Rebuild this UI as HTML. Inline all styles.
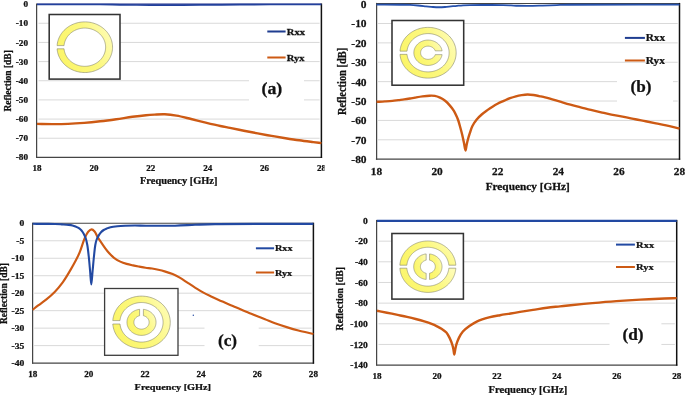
<!DOCTYPE html>
<html><head><meta charset="utf-8"><style>
html,body{margin:0;padding:0;background:#fff;width:685px;height:395px;overflow:hidden}
svg{display:block;will-change:transform}
text{font-family:"Liberation Serif", serif;font-weight:bold;stroke:#111;stroke-width:0.25px;paint-order:stroke}
</style></head><body>
<svg width="685" height="395" viewBox="0 0 685 395" font-family='"Liberation Serif", serif' font-weight="bold" fill="#111">
<defs>
<linearGradient id="yg" x1="0" y1="0.7" x2="1" y2="0.3">
<stop offset="0" stop-color="#fbf567"/><stop offset="0.6" stop-color="#fcf87f"/><stop offset="1" stop-color="#fefcb4"/>
</linearGradient>
<clipPath id="ca"><rect x="0" y="0" width="324.5" height="200"/></clipPath>
</defs>
<rect width="685" height="395" fill="#fff"/>
<g clip-path="url(#ca)">
<line x1="38.50" y1="23.26" x2="319.60" y2="23.26" stroke="#d9d9d9" stroke-width="1"/>
<line x1="38.50" y1="42.43" x2="319.60" y2="42.43" stroke="#d9d9d9" stroke-width="1"/>
<line x1="38.50" y1="61.59" x2="319.60" y2="61.59" stroke="#d9d9d9" stroke-width="1"/>
<line x1="38.50" y1="80.75" x2="319.60" y2="80.75" stroke="#d9d9d9" stroke-width="1"/>
<line x1="38.50" y1="99.91" x2="319.60" y2="99.91" stroke="#d9d9d9" stroke-width="1"/>
<line x1="38.50" y1="119.08" x2="319.60" y2="119.08" stroke="#d9d9d9" stroke-width="1"/>
<line x1="38.50" y1="138.24" x2="319.60" y2="138.24" stroke="#d9d9d9" stroke-width="1"/>
<rect x="249.00" y="68.00" width="55.00" height="44.00" fill="#fff"/>
<line x1="36.60" y1="3.50" x2="36.60" y2="158.00" stroke="#454545" stroke-width="1.25"/>
<line x1="36.40" y1="157.40" x2="322.10" y2="157.40" stroke="#454545" stroke-width="1.3"/>
<line x1="37.00" y1="4.10" x2="321.40" y2="4.10" stroke="#1f2d88" stroke-width="1.1"/>
<line x1="321.40" y1="3.50" x2="321.40" y2="158.00" stroke="#111" stroke-width="1.5"/>
<rect x="49.20" y="14.50" width="70.80" height="64.60" fill="#fff" stroke="#333" stroke-width="1.55"/>
<path d="M57.10,45.60 L57.23,44.31 L57.43,43.02 L57.70,41.74 L58.04,40.48 L58.45,39.24 L58.94,38.02 L59.49,36.82 L60.10,35.65 L60.78,34.51 L61.53,33.40 L62.34,32.33 L63.20,31.30 L64.12,30.31 L65.10,29.36 L66.13,28.47 L67.21,27.62 L68.33,26.82 L69.50,26.07 L70.70,25.39 L71.95,24.76 L73.23,24.18 L74.54,23.67 L75.87,23.22 L77.23,22.84 L78.61,22.51 L80.01,22.26 L81.41,22.07 L82.83,21.94 L84.25,21.88 L85.68,21.89 L87.10,21.96 L88.51,22.10 L89.92,22.31 L91.31,22.58 L92.69,22.92 L94.04,23.32 L95.37,23.79 L96.67,24.31 L97.94,24.90 L99.18,25.54 L100.38,26.24 L101.54,27.00 L102.65,27.81 L103.72,28.67 L104.73,29.58 L105.70,30.53 L106.61,31.53 L107.46,32.58 L108.25,33.66 L108.98,34.77 L109.65,35.92 L110.25,37.10 L110.78,38.30 L111.25,39.53 L111.65,40.77 L111.97,42.04 L112.23,43.32 L112.41,44.61 L112.52,45.90 L112.55,47.20 L112.52,48.50 L112.41,49.79 L112.23,51.08 L111.97,52.36 L111.65,53.63 L111.25,54.87 L110.78,56.10 L110.25,57.30 L109.65,58.48 L108.98,59.63 L108.25,60.74 L107.46,61.82 L106.61,62.87 L105.70,63.87 L104.73,64.82 L103.72,65.73 L102.65,66.59 L101.54,67.40 L100.38,68.16 L99.18,68.86 L97.94,69.50 L96.67,70.09 L95.37,70.61 L94.04,71.08 L92.69,71.48 L91.31,71.82 L89.92,72.09 L88.51,72.30 L87.10,72.44 L85.68,72.51 L84.25,72.52 L82.83,72.46 L81.41,72.33 L80.01,72.14 L78.61,71.89 L77.23,71.56 L75.87,71.18 L74.54,70.73 L73.23,70.22 L71.95,69.64 L70.70,69.01 L69.50,68.33 L68.33,67.58 L67.21,66.78 L66.13,65.93 L65.10,65.04 L64.12,64.09 L63.20,63.10 L62.34,62.07 L61.53,61.00 L60.78,59.89 L60.10,58.75 L59.49,57.58 L58.94,56.38 L58.45,55.16 L58.04,53.92 L57.70,52.66 L57.43,51.38 L57.23,50.09 L57.10,48.80 L64.06,48.80 L64.17,49.77 L64.34,50.73 L64.57,51.68 L64.84,52.62 L65.17,53.55 L65.54,54.46 L65.97,55.35 L66.45,56.22 L66.97,57.07 L67.54,57.89 L68.16,58.68 L68.82,59.45 L69.52,60.18 L70.26,60.88 L71.03,61.54 L71.85,62.17 L72.69,62.75 L73.57,63.30 L74.48,63.80 L75.41,64.27 L76.37,64.68 L77.35,65.05 L78.35,65.38 L79.37,65.66 L80.40,65.89 L81.44,66.07 L82.49,66.20 L83.55,66.28 L84.61,66.32 L85.67,66.30 L86.73,66.24 L87.78,66.12 L88.83,65.96 L89.86,65.74 L90.89,65.48 L91.89,65.18 L92.88,64.82 L93.85,64.42 L94.79,63.97 L95.71,63.48 L96.60,62.95 L97.45,62.38 L98.28,61.77 L99.07,61.12 L99.82,60.43 L100.54,59.71 L101.21,58.96 L101.84,58.18 L102.43,57.37 L102.97,56.53 L103.46,55.67 L103.91,54.78 L104.30,53.88 L104.65,52.96 L104.94,52.02 L105.18,51.07 L105.37,50.11 L105.51,49.15 L105.59,48.17 L105.62,47.20 L105.59,46.23 L105.51,45.25 L105.37,44.29 L105.18,43.33 L104.94,42.38 L104.65,41.44 L104.30,40.52 L103.91,39.62 L103.46,38.73 L102.97,37.87 L102.43,37.03 L101.84,36.22 L101.21,35.44 L100.54,34.69 L99.82,33.97 L99.07,33.28 L98.28,32.63 L97.45,32.02 L96.60,31.45 L95.71,30.92 L94.79,30.43 L93.85,29.98 L92.88,29.58 L91.89,29.22 L90.89,28.92 L89.86,28.66 L88.83,28.44 L87.78,28.28 L86.73,28.16 L85.67,28.10 L84.61,28.08 L83.55,28.12 L82.49,28.20 L81.44,28.33 L80.40,28.51 L79.37,28.74 L78.35,29.02 L77.35,29.35 L76.37,29.72 L75.41,30.13 L74.48,30.60 L73.57,31.10 L72.69,31.65 L71.85,32.23 L71.03,32.86 L70.26,33.52 L69.52,34.22 L68.82,34.95 L68.16,35.72 L67.54,36.51 L66.97,37.33 L66.45,38.18 L65.97,39.05 L65.54,39.94 L65.17,40.85 L64.84,41.78 L64.57,42.72 L64.34,43.67 L64.17,44.63 L64.06,45.60 Z" fill="url(#yg)" stroke="#85856a" stroke-width="0.6"/>
<path d="M37.00,123.90 C42.03,123.97 46.99,124.10 52.10,124.10 C57.36,124.10 62.76,124.10 68.10,123.90 C73.46,123.70 78.85,123.33 84.20,122.90 C89.55,122.47 94.86,121.91 100.20,121.30 C105.56,120.68 110.94,119.95 116.30,119.20 C121.67,118.45 127.25,117.49 132.40,116.80 C137.12,116.17 141.98,115.58 146.00,115.20 C149.19,114.90 151.61,114.75 154.60,114.60 C157.85,114.44 161.29,114.16 164.80,114.30 C168.57,114.45 172.41,114.90 176.50,115.60 C181.12,116.39 186.24,117.83 191.10,119.00 C195.97,120.17 200.83,121.43 205.70,122.60 C210.56,123.77 215.92,125.06 220.30,126.00 C223.86,126.76 226.48,127.20 230.00,127.90 C234.22,128.74 239.27,129.78 243.90,130.70 C248.51,131.61 253.09,132.53 257.70,133.40 C262.32,134.27 266.96,135.10 271.60,135.90 C276.23,136.70 280.87,137.47 285.50,138.20 C290.11,138.93 294.69,139.65 299.30,140.30 C303.92,140.95 309.17,141.59 313.20,142.10 C316.29,142.49 318.67,142.77 321.40,143.10" fill="none" stroke="#cd5a14" stroke-width="2.40" stroke-linejoin="round"/>
<path d="M37.00,4.50 C58.00,4.50 84.86,4.39 100.00,4.50 C108.53,4.56 112.66,4.71 120.00,4.80 C128.99,4.91 140.46,5.03 150.00,5.10 C158.71,5.16 166.67,5.23 175.00,5.20 C183.33,5.17 190.69,4.98 200.00,4.90 C211.77,4.80 227.62,4.77 240.00,4.70 C250.72,4.64 258.66,4.54 270.00,4.50 C284.84,4.45 304.27,4.50 321.40,4.50" fill="none" stroke="#22409c" stroke-width="1.70" stroke-linejoin="round"/>
<line x1="267.30" y1="31.40" x2="285.60" y2="31.40" stroke="#1f3d90" stroke-width="2"/>
<line x1="267.30" y1="57.60" x2="285.60" y2="57.60" stroke="#cd5a14" stroke-width="2"/>
<text x="0" y="0" transform="translate(286.80,35.00) scale(1.155,1)" font-size="9.10" text-anchor="start" >Rxx</text>
<text x="0" y="0" transform="translate(286.80,61.20) scale(1.155,1)" font-size="9.10" text-anchor="start" >Ryx</text>
<text x="0" y="0" transform="translate(271.85,94.10) scale(1.140,1)" font-size="15.66" text-anchor="middle" >(a)</text>
<text x="0" y="0" transform="translate(28.00,7.17) scale(1.150,1)" font-size="8.00" text-anchor="end" >0</text>
<text x="0" y="0" transform="translate(28.00,26.33) scale(1.150,1)" font-size="8.00" text-anchor="end" >-10</text>
<text x="0" y="0" transform="translate(28.00,45.50) scale(1.150,1)" font-size="8.00" text-anchor="end" >-20</text>
<text x="0" y="0" transform="translate(28.00,64.66) scale(1.150,1)" font-size="8.00" text-anchor="end" >-30</text>
<text x="0" y="0" transform="translate(28.00,83.82) scale(1.150,1)" font-size="8.00" text-anchor="end" >-40</text>
<text x="0" y="0" transform="translate(28.00,102.98) scale(1.150,1)" font-size="8.00" text-anchor="end" >-50</text>
<text x="0" y="0" transform="translate(28.00,122.14) scale(1.150,1)" font-size="8.00" text-anchor="end" >-60</text>
<text x="0" y="0" transform="translate(28.00,141.31) scale(1.150,1)" font-size="8.00" text-anchor="end" >-70</text>
<text x="0" y="0" transform="translate(28.00,160.47) scale(1.150,1)" font-size="8.00" text-anchor="end" >-80</text>
<text x="0" y="0" transform="translate(37.00,171.00) scale(1.100,1)" font-size="8.20" text-anchor="middle" >18</text>
<text x="0" y="0" transform="translate(93.88,171.00) scale(1.100,1)" font-size="8.20" text-anchor="middle" >20</text>
<text x="0" y="0" transform="translate(150.76,171.00) scale(1.100,1)" font-size="8.20" text-anchor="middle" >22</text>
<text x="0" y="0" transform="translate(207.64,171.00) scale(1.100,1)" font-size="8.20" text-anchor="middle" >24</text>
<text x="0" y="0" transform="translate(264.52,171.00) scale(1.100,1)" font-size="8.20" text-anchor="middle" >26</text>
<text x="0" y="0" transform="translate(321.40,171.00) scale(1.100,1)" font-size="8.20" text-anchor="middle" >28</text>
<text x="0" y="0" transform="translate(178.70,184.20) scale(1.100,1)" font-size="9.45" text-anchor="middle" >Frequency [GHz]</text>
<text x="0" y="0" transform="translate(11.00,80.85) scale(1.120,1) rotate(-90)" font-size="9.50" text-anchor="middle">Reflection [dB]</text>
</g>
<line x1="378.00" y1="23.49" x2="677.70" y2="23.49" stroke="#d9d9d9" stroke-width="1"/>
<line x1="378.00" y1="42.88" x2="677.70" y2="42.88" stroke="#d9d9d9" stroke-width="1"/>
<line x1="378.00" y1="62.26" x2="677.70" y2="62.26" stroke="#d9d9d9" stroke-width="1"/>
<line x1="378.00" y1="81.65" x2="677.70" y2="81.65" stroke="#d9d9d9" stroke-width="1"/>
<line x1="378.00" y1="101.04" x2="677.70" y2="101.04" stroke="#d9d9d9" stroke-width="1"/>
<line x1="378.00" y1="120.42" x2="677.70" y2="120.42" stroke="#d9d9d9" stroke-width="1"/>
<line x1="378.00" y1="139.81" x2="677.70" y2="139.81" stroke="#d9d9d9" stroke-width="1"/>
<rect x="617.00" y="68.00" width="56.00" height="44.00" fill="#fff"/>
<line x1="376.60" y1="2.90" x2="376.60" y2="159.80" stroke="#454545" stroke-width="1.25"/>
<line x1="375.90" y1="159.20" x2="680.20" y2="159.20" stroke="#454545" stroke-width="1.3"/>
<line x1="376.50" y1="3.50" x2="679.50" y2="3.50" stroke="#454545" stroke-width="1.1"/>
<line x1="679.50" y1="2.90" x2="679.50" y2="159.80" stroke="#111" stroke-width="1.5"/>
<rect x="392.00" y="20.50" width="71.70" height="64.70" fill="#fff" stroke="#333" stroke-width="1.55"/>
<path d="M400.00,51.15 L400.13,49.85 L400.33,48.57 L400.60,47.29 L400.95,46.03 L401.37,44.78 L401.86,43.56 L402.41,42.36 L403.04,41.18 L403.73,40.04 L404.48,38.93 L405.30,37.86 L406.17,36.83 L407.11,35.83 L408.10,34.89 L409.14,33.99 L410.23,33.14 L411.37,32.34 L412.55,31.59 L413.77,30.90 L415.03,30.27 L416.33,29.70 L417.65,29.19 L419.01,28.74 L420.38,28.35 L421.78,28.03 L423.19,27.77 L424.62,27.58 L426.05,27.45 L427.50,27.39 L428.94,27.40 L430.38,27.47 L431.81,27.62 L433.23,27.82 L434.64,28.10 L436.04,28.43 L437.41,28.83 L438.75,29.30 L440.07,29.83 L441.36,30.41 L442.61,31.06 L443.83,31.76 L445.00,32.52 L446.13,33.33 L447.21,34.19 L448.24,35.10 L449.21,36.06 L450.13,37.06 L451.00,38.10 L451.80,39.18 L452.54,40.30 L453.21,41.45 L453.82,42.63 L454.36,43.84 L454.84,45.07 L455.24,46.31 L455.57,47.58 L455.82,48.86 L456.01,50.15 L456.12,51.45 L456.16,52.75 L456.12,54.05 L456.01,55.35 L455.82,56.64 L455.57,57.92 L455.24,59.19 L454.84,60.43 L454.36,61.66 L453.82,62.87 L453.21,64.05 L452.54,65.20 L451.80,66.32 L451.00,67.40 L450.13,68.44 L449.21,69.44 L448.24,70.40 L447.21,71.31 L446.13,72.17 L445.00,72.98 L443.83,73.74 L442.61,74.44 L441.36,75.09 L440.07,75.67 L438.75,76.20 L437.41,76.67 L436.04,77.07 L434.64,77.40 L433.23,77.68 L431.81,77.88 L430.38,78.03 L428.94,78.10 L427.50,78.11 L426.05,78.05 L424.62,77.92 L423.19,77.73 L421.78,77.47 L420.38,77.15 L419.01,76.76 L417.65,76.31 L416.33,75.80 L415.03,75.23 L413.77,74.60 L412.55,73.91 L411.37,73.16 L410.23,72.36 L409.14,71.51 L408.10,70.61 L407.11,69.67 L406.17,68.67 L405.30,67.64 L404.48,66.57 L403.73,65.46 L403.04,64.32 L402.41,63.14 L401.86,61.94 L401.37,60.72 L400.95,59.47 L400.60,58.21 L400.33,56.93 L400.13,55.65 L400.00,54.35 L407.04,54.35 L407.16,55.32 L407.33,56.28 L407.56,57.24 L407.84,58.18 L408.17,59.11 L408.55,60.02 L408.98,60.91 L409.46,61.79 L410.00,62.63 L410.57,63.46 L411.20,64.25 L411.86,65.02 L412.57,65.75 L413.32,66.45 L414.11,67.11 L414.93,67.74 L415.79,68.33 L416.68,68.87 L417.60,69.38 L418.54,69.84 L419.51,70.26 L420.51,70.63 L421.52,70.96 L422.55,71.24 L423.59,71.47 L424.65,71.65 L425.71,71.78 L426.78,71.86 L427.86,71.90 L428.93,71.88 L430.00,71.82 L431.07,71.70 L432.13,71.54 L433.18,71.32 L434.21,71.06 L435.23,70.75 L436.23,70.40 L437.21,70.00 L438.17,69.55 L439.09,69.06 L440.00,68.53 L440.86,67.95 L441.70,67.34 L442.50,66.69 L443.26,66.00 L443.99,65.28 L444.67,64.53 L445.31,63.74 L445.90,62.93 L446.45,62.09 L446.95,61.23 L447.40,60.34 L447.80,59.44 L448.15,58.51 L448.45,57.58 L448.69,56.63 L448.88,55.67 L449.02,54.70 L449.10,53.73 L449.13,52.75 L449.10,51.77 L449.02,50.80 L448.88,49.83 L448.69,48.87 L448.45,47.92 L448.15,46.99 L447.80,46.06 L447.40,45.16 L446.95,44.27 L446.45,43.41 L445.90,42.57 L445.31,41.76 L444.67,40.97 L443.99,40.22 L443.26,39.50 L442.50,38.81 L441.70,38.16 L440.86,37.55 L440.00,36.97 L439.09,36.44 L438.17,35.95 L437.21,35.50 L436.23,35.10 L435.23,34.75 L434.21,34.44 L433.18,34.18 L432.13,33.96 L431.07,33.80 L430.00,33.68 L428.93,33.62 L427.86,33.60 L426.78,33.64 L425.71,33.72 L424.65,33.85 L423.59,34.03 L422.55,34.26 L421.52,34.54 L420.51,34.87 L419.51,35.24 L418.54,35.66 L417.60,36.12 L416.68,36.63 L415.79,37.17 L414.93,37.76 L414.11,38.39 L413.32,39.05 L412.57,39.75 L411.86,40.48 L411.20,41.25 L410.57,42.04 L410.00,42.87 L409.46,43.71 L408.98,44.59 L408.55,45.48 L408.17,46.39 L407.84,47.32 L407.56,48.26 L407.33,49.22 L407.16,50.18 L407.04,51.15 Z" fill="url(#yg)" stroke="#85856a" stroke-width="0.6"/>
<path d="M442.08,54.65 L441.96,55.27 L441.80,55.89 L441.61,56.50 L441.38,57.10 L441.13,57.68 L440.83,58.26 L440.51,58.82 L440.16,59.37 L439.77,59.90 L439.36,60.41 L438.92,60.91 L438.45,61.38 L437.95,61.83 L437.44,62.26 L436.89,62.67 L436.33,63.05 L435.74,63.41 L435.14,63.74 L434.52,64.04 L433.88,64.31 L433.23,64.56 L432.56,64.77 L431.89,64.96 L431.20,65.11 L430.51,65.24 L429.81,65.33 L429.10,65.40 L428.40,65.43 L427.69,65.43 L426.98,65.40 L426.28,65.33 L425.58,65.24 L424.89,65.11 L424.20,64.96 L423.53,64.77 L422.86,64.55 L422.21,64.31 L421.57,64.03 L420.95,63.73 L420.35,63.40 L419.76,63.04 L419.20,62.66 L418.66,62.26 L418.14,61.83 L417.64,61.37 L417.18,60.90 L416.73,60.41 L416.32,59.89 L415.94,59.36 L415.58,58.81 L415.26,58.25 L414.97,57.67 L414.71,57.09 L414.49,56.49 L414.29,55.88 L414.14,55.26 L414.01,54.64 L413.93,54.01 L413.87,53.38 L413.86,52.75 L413.87,52.12 L413.93,51.49 L414.01,50.86 L414.14,50.24 L414.29,49.62 L414.49,49.01 L414.71,48.41 L414.97,47.83 L415.26,47.25 L415.58,46.69 L415.94,46.14 L416.32,45.61 L416.73,45.09 L417.18,44.60 L417.64,44.13 L418.14,43.67 L418.66,43.24 L419.20,42.84 L419.76,42.46 L420.35,42.10 L420.95,41.77 L421.57,41.47 L422.21,41.19 L422.86,40.95 L423.53,40.73 L424.20,40.54 L424.89,40.39 L425.58,40.26 L426.28,40.17 L426.98,40.10 L427.69,40.07 L428.40,40.07 L429.10,40.10 L429.81,40.17 L430.51,40.26 L431.20,40.39 L431.89,40.54 L432.56,40.73 L433.23,40.94 L433.88,41.19 L434.52,41.46 L435.14,41.76 L435.74,42.09 L436.33,42.45 L436.89,42.83 L437.44,43.24 L437.95,43.67 L438.45,44.12 L438.92,44.59 L439.36,45.09 L439.77,45.60 L440.16,46.13 L440.51,46.68 L440.83,47.24 L441.13,47.82 L441.38,48.40 L441.61,49.00 L441.80,49.61 L441.96,50.23 L442.08,50.85 L435.18,50.85 L435.07,50.55 L434.95,50.26 L434.81,49.97 L434.65,49.69 L434.48,49.42 L434.29,49.15 L434.09,48.89 L433.88,48.64 L433.65,48.40 L433.41,48.17 L433.16,47.95 L432.90,47.74 L432.62,47.55 L432.34,47.36 L432.05,47.18 L431.74,47.02 L431.43,46.87 L431.11,46.74 L430.79,46.62 L430.45,46.51 L430.12,46.41 L429.78,46.34 L429.43,46.27 L429.08,46.22 L428.73,46.18 L428.38,46.16 L428.02,46.16 L427.67,46.16 L427.32,46.19 L426.97,46.23 L426.62,46.28 L426.27,46.35 L425.93,46.43 L425.59,46.52 L425.26,46.63 L424.94,46.76 L424.62,46.90 L424.31,47.05 L424.01,47.21 L423.72,47.39 L423.43,47.58 L423.16,47.78 L422.90,47.99 L422.65,48.21 L422.41,48.44 L422.19,48.68 L421.98,48.93 L421.78,49.19 L421.60,49.46 L421.43,49.73 L421.27,50.02 L421.13,50.30 L421.01,50.60 L420.90,50.90 L420.81,51.20 L420.74,51.50 L420.68,51.81 L420.64,52.12 L420.61,52.44 L420.60,52.75 L420.61,53.06 L420.64,53.38 L420.68,53.69 L420.74,54.00 L420.81,54.30 L420.90,54.60 L421.01,54.90 L421.13,55.20 L421.27,55.48 L421.43,55.77 L421.60,56.04 L421.78,56.31 L421.98,56.57 L422.19,56.82 L422.41,57.06 L422.65,57.29 L422.90,57.51 L423.16,57.72 L423.43,57.92 L423.72,58.11 L424.01,58.29 L424.31,58.45 L424.62,58.60 L424.94,58.74 L425.26,58.87 L425.59,58.98 L425.93,59.07 L426.27,59.15 L426.62,59.22 L426.97,59.27 L427.32,59.31 L427.67,59.34 L428.02,59.34 L428.38,59.34 L428.73,59.32 L429.08,59.28 L429.43,59.23 L429.78,59.16 L430.12,59.09 L430.45,58.99 L430.79,58.88 L431.11,58.76 L431.43,58.63 L431.74,58.48 L432.05,58.32 L432.34,58.14 L432.62,57.95 L432.90,57.76 L433.16,57.55 L433.41,57.33 L433.65,57.10 L433.88,56.86 L434.09,56.61 L434.29,56.35 L434.48,56.08 L434.65,55.81 L434.81,55.53 L434.95,55.24 L435.07,54.95 L435.18,54.65 Z" fill="url(#yg)" stroke="#85856a" stroke-width="0.6"/>
<path d="M376.60,101.80 C379.37,101.67 382.20,101.56 384.90,101.40 C387.49,101.24 390.13,101.09 392.50,100.85 C394.59,100.64 396.44,100.34 398.40,100.10 C400.34,99.86 402.27,99.67 404.20,99.40 C406.14,99.13 408.14,98.81 410.00,98.50 C411.73,98.21 413.16,97.91 415.00,97.60 C417.25,97.22 420.04,96.72 422.50,96.40 C424.87,96.09 427.33,95.77 429.50,95.70 C431.39,95.64 433.07,95.57 434.80,95.90 C436.57,96.23 438.32,96.91 440.00,97.70 C441.75,98.52 443.53,99.58 445.10,100.80 C446.70,102.04 448.09,103.51 449.50,105.10 C451.03,106.82 452.68,108.84 453.90,110.80 C455.05,112.64 455.92,114.75 456.70,116.50 C457.34,117.94 457.78,118.97 458.30,120.50 C458.98,122.49 459.66,125.14 460.30,127.50 C460.96,129.90 461.60,132.29 462.20,134.80 C462.83,137.45 463.44,140.33 464.00,143.00 C464.54,145.55 465.04,150.50 465.50,150.50 C465.90,150.50 466.20,146.83 466.60,145.00 C467.00,143.16 467.39,141.41 467.90,139.50 C468.47,137.39 469.17,135.09 469.90,132.90 C470.64,130.69 471.24,128.44 472.30,126.30 C473.41,124.04 474.90,121.69 476.50,119.70 C478.05,117.77 479.91,116.08 481.70,114.50 C483.41,112.99 485.16,111.73 487.00,110.40 C488.89,109.03 491.03,107.56 492.90,106.40 C494.51,105.40 495.83,104.66 497.50,103.80 C499.42,102.82 501.70,101.84 503.80,100.90 C505.87,99.97 507.94,98.98 510.00,98.20 C511.97,97.45 513.93,96.82 515.90,96.30 C517.83,95.79 519.75,95.40 521.70,95.10 C523.65,94.80 525.64,94.52 527.60,94.50 C529.54,94.49 531.47,94.73 533.40,95.00 C535.34,95.27 537.26,95.72 539.20,96.10 C541.16,96.49 543.23,96.86 545.10,97.30 C546.82,97.70 548.08,98.05 550.00,98.60 C552.79,99.39 556.80,100.68 560.20,101.70 C563.60,102.72 566.98,103.77 570.40,104.70 C573.82,105.63 577.28,106.43 580.70,107.30 C584.11,108.16 587.50,109.07 590.90,109.90 C594.30,110.73 597.70,111.52 601.10,112.30 C604.50,113.08 607.63,113.86 611.30,114.60 C615.57,115.46 620.93,116.26 625.20,117.10 C628.87,117.83 631.99,118.60 635.40,119.30 C638.82,120.00 642.28,120.62 645.70,121.30 C649.11,121.98 652.50,122.72 655.90,123.40 C659.30,124.08 662.48,124.63 666.10,125.40 C670.27,126.29 675.03,127.47 679.50,128.50" fill="none" stroke="#cd5a14" stroke-width="2.40" stroke-linejoin="round"/>
<path d="M376.50,4.70 C384.33,4.72 393.82,4.68 400.00,4.75 C404.03,4.79 406.85,4.81 410.00,4.95 C412.82,5.07 415.34,5.28 418.00,5.50 C420.67,5.73 423.42,6.04 426.00,6.30 C428.41,6.54 430.75,6.84 433.00,7.00 C435.07,7.15 437.00,7.25 439.00,7.25 C441.00,7.25 443.00,7.14 445.00,7.00 C447.00,6.86 449.00,6.60 451.00,6.40 C453.00,6.20 455.00,5.98 457.00,5.80 C459.00,5.62 460.92,5.42 463.00,5.30 C465.24,5.17 467.07,5.11 470.00,5.05 C474.96,4.96 484.05,4.98 490.00,5.00 C494.80,5.01 499.19,5.01 503.00,5.10 C505.99,5.17 508.42,5.29 511.00,5.40 C513.41,5.51 515.46,5.67 518.00,5.75 C521.04,5.85 524.59,5.91 528.00,5.90 C531.58,5.89 535.33,5.80 539.00,5.70 C542.67,5.60 546.42,5.43 550.00,5.30 C553.41,5.18 556.67,5.04 560.00,4.95 C563.33,4.86 564.88,4.80 570.00,4.75 C586.94,4.58 643.00,4.72 679.50,4.70" fill="none" stroke="#2550ab" stroke-width="1.80" stroke-linejoin="round"/>
<line x1="624.90" y1="37.90" x2="644.90" y2="37.90" stroke="#1f3d90" stroke-width="2"/>
<line x1="624.90" y1="60.50" x2="644.90" y2="60.50" stroke="#cd5a14" stroke-width="2"/>
<text x="0" y="0" transform="translate(645.70,40.90) scale(1.100,1)" font-size="10.30" text-anchor="start" >Rxx</text>
<text x="0" y="0" transform="translate(645.70,63.50) scale(1.100,1)" font-size="10.30" text-anchor="start" >Ryx</text>
<text x="0" y="0" transform="translate(640.90,92.20) scale(1.094,1)" font-size="15.66" text-anchor="middle" >(b)</text>
<text x="0" y="0" transform="translate(366.60,8.00) scale(1.030,1)" font-size="11.15" text-anchor="end" >0</text>
<text x="0" y="0" transform="translate(366.60,27.39) scale(1.030,1)" font-size="11.15" text-anchor="end" >-10</text>
<text x="0" y="0" transform="translate(366.60,46.77) scale(1.030,1)" font-size="11.15" text-anchor="end" >-20</text>
<text x="0" y="0" transform="translate(366.60,66.16) scale(1.030,1)" font-size="11.15" text-anchor="end" >-30</text>
<text x="0" y="0" transform="translate(366.60,85.55) scale(1.030,1)" font-size="11.15" text-anchor="end" >-40</text>
<text x="0" y="0" transform="translate(366.60,104.94) scale(1.030,1)" font-size="11.15" text-anchor="end" >-50</text>
<text x="0" y="0" transform="translate(366.60,124.32) scale(1.030,1)" font-size="11.15" text-anchor="end" >-60</text>
<text x="0" y="0" transform="translate(366.60,143.71) scale(1.030,1)" font-size="11.15" text-anchor="end" >-70</text>
<text x="0" y="0" transform="translate(366.60,163.10) scale(1.030,1)" font-size="11.15" text-anchor="end" >-80</text>
<text x="0" y="0" transform="translate(376.50,175.20) scale(1.070,1)" font-size="10.60" text-anchor="middle" >18</text>
<text x="0" y="0" transform="translate(437.10,175.20) scale(1.070,1)" font-size="10.60" text-anchor="middle" >20</text>
<text x="0" y="0" transform="translate(497.70,175.20) scale(1.070,1)" font-size="10.60" text-anchor="middle" >22</text>
<text x="0" y="0" transform="translate(558.30,175.20) scale(1.070,1)" font-size="10.60" text-anchor="middle" >24</text>
<text x="0" y="0" transform="translate(618.90,175.20) scale(1.070,1)" font-size="10.60" text-anchor="middle" >26</text>
<text x="0" y="0" transform="translate(679.50,175.20) scale(1.070,1)" font-size="10.60" text-anchor="middle" >28</text>
<text x="0" y="0" transform="translate(527.70,189.80) scale(1.130,1)" font-size="10.00" text-anchor="middle" >Frequency [GHz]</text>
<text x="0" y="0" transform="translate(346.30,81.50) scale(1.100,1) rotate(-90)" font-size="10.40" text-anchor="middle">Reflection [dB]</text>
<line x1="34.20" y1="240.78" x2="311.60" y2="240.78" stroke="#d9d9d9" stroke-width="1"/>
<line x1="34.20" y1="258.25" x2="311.60" y2="258.25" stroke="#d9d9d9" stroke-width="1"/>
<line x1="34.20" y1="275.73" x2="311.60" y2="275.73" stroke="#d9d9d9" stroke-width="1"/>
<line x1="34.20" y1="293.20" x2="311.60" y2="293.20" stroke="#d9d9d9" stroke-width="1"/>
<line x1="34.20" y1="310.68" x2="311.60" y2="310.68" stroke="#d9d9d9" stroke-width="1"/>
<line x1="34.20" y1="328.15" x2="311.60" y2="328.15" stroke="#d9d9d9" stroke-width="1"/>
<line x1="34.20" y1="345.62" x2="311.60" y2="345.62" stroke="#d9d9d9" stroke-width="1"/>
<rect x="204.50" y="318.00" width="54.20" height="44.00" fill="#fff"/>
<line x1="32.60" y1="222.70" x2="32.60" y2="363.70" stroke="#454545" stroke-width="1.25"/>
<line x1="32.10" y1="363.10" x2="314.10" y2="363.10" stroke="#454545" stroke-width="1.3"/>
<line x1="32.70" y1="223.30" x2="313.40" y2="223.30" stroke="#454545" stroke-width="1.1"/>
<line x1="313.40" y1="222.70" x2="313.40" y2="363.70" stroke="#111" stroke-width="1.5"/>
<rect x="104.60" y="288.50" width="73.40" height="66.80" fill="#fff" stroke="#3c3c3c" stroke-width="1.30"/>
<path d="M112.79,320.60 L112.92,319.26 L113.13,317.93 L113.41,316.62 L113.77,315.31 L114.20,314.03 L114.70,312.77 L115.27,311.53 L115.91,310.32 L116.62,309.14 L117.40,308.00 L118.23,306.89 L119.13,305.83 L120.09,304.81 L121.10,303.83 L122.17,302.90 L123.29,302.03 L124.45,301.21 L125.66,300.44 L126.92,299.73 L128.21,299.08 L129.53,298.49 L130.89,297.96 L132.27,297.50 L133.68,297.10 L135.11,296.77 L136.56,296.50 L138.02,296.31 L139.49,296.18 L140.96,296.12 L142.43,296.13 L143.91,296.21 L145.37,296.35 L146.83,296.57 L148.27,296.85 L149.70,297.20 L151.10,297.61 L152.48,298.09 L153.83,298.64 L155.14,299.24 L156.42,299.91 L157.66,300.64 L158.86,301.42 L160.02,302.26 L161.12,303.15 L162.17,304.09 L163.17,305.08 L164.11,306.11 L165.00,307.19 L165.82,308.30 L166.57,309.45 L167.26,310.64 L167.89,311.86 L168.44,313.10 L168.92,314.37 L169.33,315.66 L169.67,316.97 L169.93,318.29 L170.12,319.62 L170.23,320.96 L170.27,322.30 L170.23,323.64 L170.12,324.98 L169.93,326.31 L169.67,327.63 L169.33,328.94 L168.92,330.23 L168.44,331.50 L167.89,332.74 L167.26,333.96 L166.57,335.15 L165.82,336.30 L165.00,337.41 L164.11,338.49 L163.17,339.52 L162.17,340.51 L161.12,341.45 L160.02,342.34 L158.86,343.18 L157.66,343.96 L156.42,344.69 L155.14,345.36 L153.83,345.96 L152.48,346.51 L151.10,346.99 L149.70,347.40 L148.27,347.75 L146.83,348.03 L145.37,348.25 L143.91,348.39 L142.43,348.47 L140.96,348.48 L139.49,348.42 L138.02,348.29 L136.56,348.10 L135.11,347.83 L133.68,347.50 L132.27,347.10 L130.89,346.64 L129.53,346.11 L128.21,345.52 L126.92,344.87 L125.66,344.16 L124.45,343.39 L123.29,342.57 L122.17,341.70 L121.10,340.77 L120.09,339.79 L119.13,338.77 L118.23,337.71 L117.40,336.60 L116.62,335.46 L115.91,334.28 L115.27,333.07 L114.70,331.83 L114.20,330.57 L113.77,329.29 L113.41,327.98 L113.13,326.67 L112.92,325.34 L112.79,324.00 L120.00,324.00 L120.12,325.00 L120.30,325.99 L120.53,326.98 L120.82,327.95 L121.16,328.91 L121.55,329.85 L122.00,330.77 L122.50,331.67 L123.04,332.54 L123.63,333.39 L124.27,334.21 L124.96,334.99 L125.68,335.75 L126.45,336.47 L127.26,337.15 L128.10,337.80 L128.98,338.40 L129.89,338.97 L130.83,339.49 L131.80,339.96 L132.79,340.39 L133.81,340.77 L134.85,341.11 L135.90,341.39 L136.97,341.63 L138.05,341.82 L139.14,341.95 L140.23,342.04 L141.33,342.07 L142.43,342.05 L143.52,341.98 L144.62,341.86 L145.70,341.69 L146.77,341.47 L147.83,341.20 L148.87,340.88 L149.89,340.51 L150.90,340.10 L151.87,339.64 L152.82,339.13 L153.74,338.58 L154.63,337.99 L155.49,337.36 L156.30,336.68 L157.08,335.98 L157.82,335.23 L158.52,334.45 L159.17,333.64 L159.78,332.80 L160.34,331.94 L160.85,331.05 L161.31,330.13 L161.72,329.20 L162.08,328.25 L162.38,327.28 L162.63,326.30 L162.83,325.31 L162.97,324.31 L163.05,323.31 L163.08,322.30 L163.05,321.29 L162.97,320.29 L162.83,319.29 L162.63,318.30 L162.38,317.32 L162.08,316.35 L161.72,315.40 L161.31,314.47 L160.85,313.55 L160.34,312.66 L159.78,311.80 L159.17,310.96 L158.52,310.15 L157.82,309.37 L157.08,308.62 L156.30,307.92 L155.49,307.24 L154.63,306.61 L153.74,306.02 L152.82,305.47 L151.87,304.96 L150.90,304.50 L149.89,304.09 L148.87,303.72 L147.83,303.40 L146.77,303.13 L145.70,302.91 L144.62,302.74 L143.52,302.62 L142.43,302.55 L141.33,302.53 L140.23,302.56 L139.14,302.65 L138.05,302.78 L136.97,302.97 L135.90,303.21 L134.85,303.49 L133.81,303.83 L132.79,304.21 L131.80,304.64 L130.83,305.11 L129.89,305.63 L128.98,306.20 L128.10,306.80 L127.26,307.45 L126.45,308.13 L125.68,308.85 L124.96,309.61 L124.27,310.39 L123.63,311.21 L123.04,312.06 L122.50,312.93 L122.00,313.83 L121.55,314.75 L121.16,315.69 L120.82,316.65 L120.53,317.62 L120.30,318.61 L120.12,319.60 L120.00,320.60 Z" fill="url(#yg)" stroke="#85856a" stroke-width="0.6"/>
<path d="M143.40,309.32 L144.12,309.42 L144.83,309.56 L145.54,309.72 L146.23,309.92 L146.92,310.15 L147.59,310.41 L148.24,310.70 L148.88,311.02 L149.50,311.37 L150.09,311.74 L150.67,312.14 L151.22,312.57 L151.75,313.02 L152.26,313.50 L152.73,314.00 L153.18,314.51 L153.60,315.05 L153.99,315.61 L154.35,316.18 L154.67,316.77 L154.96,317.37 L155.22,317.99 L155.44,318.61 L155.63,319.25 L155.78,319.89 L155.90,320.54 L155.98,321.19 L156.02,321.84 L156.03,322.50 L156.00,323.16 L155.93,323.81 L155.83,324.46 L155.69,325.11 L155.52,325.75 L155.31,326.37 L155.06,326.99 L154.79,327.60 L154.47,328.19 L154.13,328.77 L153.75,329.34 L153.35,329.88 L152.91,330.41 L152.44,330.91 L151.95,331.40 L151.43,331.86 L150.89,332.29 L150.32,332.70 L149.73,333.09 L149.12,333.45 L148.49,333.78 L147.84,334.08 L147.18,334.35 L146.50,334.59 L145.81,334.80 L145.11,334.98 L144.40,335.13 L143.68,335.24 L142.96,335.33 L142.23,335.38 L141.50,335.39 L140.77,335.38 L140.04,335.33 L139.32,335.24 L138.60,335.13 L137.89,334.98 L137.19,334.80 L136.50,334.59 L135.82,334.35 L135.16,334.08 L134.51,333.78 L133.88,333.45 L133.27,333.09 L132.68,332.70 L132.11,332.29 L131.57,331.86 L131.05,331.40 L130.56,330.91 L130.09,330.41 L129.65,329.88 L129.25,329.34 L128.87,328.77 L128.53,328.19 L128.21,327.60 L127.94,326.99 L127.69,326.37 L127.48,325.75 L127.31,325.11 L127.17,324.46 L127.07,323.81 L127.00,323.16 L126.97,322.50 L126.98,321.84 L127.02,321.19 L127.10,320.54 L127.22,319.89 L127.37,319.25 L127.56,318.61 L127.78,317.99 L128.04,317.37 L128.33,316.77 L128.65,316.18 L129.01,315.61 L129.40,315.05 L129.82,314.51 L130.27,314.00 L130.74,313.50 L131.25,313.02 L131.78,312.57 L132.33,312.14 L132.91,311.74 L133.50,311.37 L134.12,311.02 L134.76,310.70 L135.41,310.41 L136.08,310.15 L136.77,309.92 L137.46,309.72 L138.17,309.56 L138.88,309.42 L139.60,309.32 L139.60,315.71 L139.25,315.80 L138.90,315.90 L138.56,316.02 L138.22,316.15 L137.89,316.30 L137.57,316.46 L137.26,316.64 L136.96,316.83 L136.67,317.03 L136.40,317.24 L136.13,317.47 L135.87,317.70 L135.63,317.95 L135.41,318.21 L135.19,318.48 L134.99,318.75 L134.81,319.03 L134.64,319.33 L134.49,319.62 L134.35,319.93 L134.23,320.24 L134.13,320.55 L134.04,320.87 L133.98,321.19 L133.93,321.52 L133.89,321.85 L133.88,322.17 L133.88,322.50 L133.90,322.83 L133.94,323.16 L133.99,323.48 L134.06,323.80 L134.15,324.12 L134.26,324.43 L134.38,324.74 L134.52,325.04 L134.68,325.34 L134.85,325.63 L135.04,325.91 L135.24,326.19 L135.46,326.45 L135.69,326.71 L135.93,326.95 L136.19,327.18 L136.46,327.41 L136.74,327.62 L137.03,327.82 L137.33,328.00 L137.65,328.17 L137.97,328.33 L138.30,328.48 L138.63,328.61 L138.98,328.72 L139.33,328.83 L139.68,328.91 L140.04,328.98 L140.40,329.04 L140.77,329.08 L141.13,329.10 L141.50,329.11 L141.87,329.10 L142.23,329.08 L142.60,329.04 L142.96,328.98 L143.32,328.91 L143.67,328.83 L144.02,328.72 L144.37,328.61 L144.70,328.48 L145.03,328.33 L145.35,328.17 L145.67,328.00 L145.97,327.82 L146.26,327.62 L146.54,327.41 L146.81,327.18 L147.07,326.95 L147.31,326.71 L147.54,326.45 L147.76,326.19 L147.96,325.91 L148.15,325.63 L148.32,325.34 L148.48,325.04 L148.62,324.74 L148.74,324.43 L148.85,324.12 L148.94,323.80 L149.01,323.48 L149.06,323.16 L149.10,322.83 L149.12,322.50 L149.12,322.17 L149.11,321.85 L149.07,321.52 L149.02,321.19 L148.96,320.87 L148.87,320.55 L148.77,320.24 L148.65,319.93 L148.51,319.62 L148.36,319.33 L148.19,319.03 L148.01,318.75 L147.81,318.48 L147.59,318.21 L147.37,317.95 L147.13,317.70 L146.87,317.47 L146.60,317.24 L146.33,317.03 L146.04,316.83 L145.74,316.64 L145.43,316.46 L145.11,316.30 L144.78,316.15 L144.44,316.02 L144.10,315.90 L143.75,315.80 L143.40,315.71 Z" fill="url(#yg)" stroke="#85856a" stroke-width="0.6"/>
<path d="M32.70,309.80 C34.53,308.33 36.17,306.97 38.20,305.40 C40.65,303.51 43.71,301.50 46.40,299.30 C49.21,297.01 52.04,294.65 54.70,291.90 C57.55,288.96 60.29,285.71 62.90,282.10 C65.78,278.12 68.45,273.53 71.10,268.90 C73.92,263.97 77.01,258.51 79.30,253.30 C81.46,248.38 82.86,242.42 84.60,238.50 C85.81,235.78 86.81,233.37 88.20,231.80 C89.23,230.64 90.50,229.40 91.60,229.40 C92.63,229.40 93.71,230.50 94.60,231.50 C95.75,232.80 96.42,235.10 97.50,236.90 C98.64,238.80 99.85,240.50 101.30,242.60 C103.14,245.25 105.46,248.87 107.70,251.50 C109.72,253.87 111.79,256.07 114.00,257.80 C116.01,259.37 118.15,260.57 120.30,261.60 C122.35,262.58 124.47,263.26 126.60,263.90 C128.71,264.53 130.87,264.95 133.00,265.40 C135.10,265.85 137.20,266.22 139.30,266.60 C141.40,266.98 143.49,267.38 145.60,267.70 C147.72,268.02 149.88,268.15 152.00,268.50 C154.12,268.85 156.21,269.32 158.30,269.80 C160.41,270.28 162.39,270.75 164.60,271.40 C167.12,272.14 170.00,273.02 172.60,274.10 C175.20,275.18 177.71,276.46 180.20,277.90 C182.78,279.39 185.26,281.25 187.80,282.90 C190.33,284.55 192.86,286.21 195.40,287.80 C197.92,289.38 200.44,290.99 203.00,292.40 C205.51,293.78 208.06,294.98 210.60,296.20 C213.12,297.41 215.66,298.56 218.20,299.70 C220.73,300.83 223.27,301.90 225.80,303.00 C228.33,304.10 230.87,305.20 233.40,306.30 C235.93,307.40 238.46,308.53 241.00,309.60 C243.53,310.66 246.07,311.67 248.60,312.70 C251.13,313.73 253.57,314.76 256.20,315.80 C259.02,316.92 261.98,318.01 265.00,319.20 C268.23,320.47 271.52,321.92 275.00,323.20 C278.73,324.57 282.79,325.88 286.70,327.10 C290.59,328.31 294.24,329.41 298.40,330.50 C303.07,331.72 308.40,332.83 313.40,334.00" fill="none" stroke="#cd5a14" stroke-width="2.15" stroke-linejoin="round"/>
<path d="M32.70,223.80 C36.80,223.83 41.11,223.86 45.00,223.90 C48.51,223.93 51.99,223.90 55.00,224.00 C57.49,224.09 59.53,224.25 61.80,224.40 C64.09,224.55 66.74,224.68 68.70,224.90 C70.16,225.07 71.32,225.21 72.50,225.50 C73.57,225.76 74.56,226.12 75.50,226.50 C76.38,226.86 77.20,227.23 78.00,227.70 C78.80,228.17 79.60,228.70 80.30,229.30 C81.00,229.90 81.64,230.57 82.20,231.30 C82.77,232.04 83.19,232.74 83.70,233.70 C84.39,235.01 85.22,236.75 85.80,238.50 C86.45,240.48 86.86,242.54 87.30,245.00 C87.87,248.17 88.26,252.05 88.70,256.00 C89.21,260.61 89.66,266.13 90.10,271.00 C90.52,275.62 90.88,284.50 91.30,284.50 C91.72,284.50 92.16,275.62 92.60,271.00 C93.06,266.13 93.51,260.61 94.00,256.00 C94.42,252.05 94.78,247.94 95.30,245.00 C95.66,243.00 95.91,241.63 96.50,240.00 C97.10,238.32 98.06,236.47 98.90,235.10 C99.57,234.00 100.20,233.15 101.00,232.30 C101.80,231.45 102.71,230.65 103.70,230.00 C104.71,229.34 105.87,228.87 107.00,228.40 C108.14,227.93 109.12,227.53 110.50,227.20 C112.40,226.74 115.04,226.45 117.40,226.20 C119.87,225.94 122.29,225.82 125.00,225.70 C128.10,225.57 131.59,225.50 135.00,225.50 C138.58,225.50 141.46,225.66 146.00,225.70 C153.37,225.77 166.23,225.90 175.00,225.70 C182.29,225.54 188.33,225.07 195.00,224.80 C201.67,224.53 205.81,224.27 215.00,224.10 C235.38,223.72 280.60,223.97 313.40,223.90" fill="none" stroke="#2249a2" stroke-width="2.10" stroke-linejoin="round"/>
<line x1="255.90" y1="248.30" x2="274.10" y2="248.30" stroke="#2249a2" stroke-width="2"/>
<line x1="255.90" y1="272.50" x2="274.10" y2="272.50" stroke="#cd5a14" stroke-width="2"/>
<text x="0" y="0" transform="translate(274.90,251.30) scale(1.180,1)" font-size="8.70" text-anchor="start" >Rxx</text>
<text x="0" y="0" transform="translate(274.90,275.50) scale(1.180,1)" font-size="8.70" text-anchor="start" >Ryx</text>
<text x="0" y="0" transform="translate(227.50,345.96) scale(1.060,1)" font-size="16.30" text-anchor="middle" >(c)</text>
<text x="0" y="0" transform="translate(24.30,226.43) scale(1.200,1)" font-size="8.00" text-anchor="end" >0</text>
<text x="0" y="0" transform="translate(24.30,243.91) scale(1.200,1)" font-size="8.00" text-anchor="end" >-5</text>
<text x="0" y="0" transform="translate(24.30,261.38) scale(1.200,1)" font-size="8.00" text-anchor="end" >-10</text>
<text x="0" y="0" transform="translate(24.30,278.86) scale(1.200,1)" font-size="8.00" text-anchor="end" >-15</text>
<text x="0" y="0" transform="translate(24.30,296.33) scale(1.200,1)" font-size="8.00" text-anchor="end" >-20</text>
<text x="0" y="0" transform="translate(24.30,313.81) scale(1.200,1)" font-size="8.00" text-anchor="end" >-25</text>
<text x="0" y="0" transform="translate(24.30,331.28) scale(1.200,1)" font-size="8.00" text-anchor="end" >-30</text>
<text x="0" y="0" transform="translate(24.30,348.75) scale(1.200,1)" font-size="8.00" text-anchor="end" >-35</text>
<text x="0" y="0" transform="translate(24.30,366.23) scale(1.200,1)" font-size="8.00" text-anchor="end" >-40</text>
<text x="0" y="0" transform="translate(32.70,376.60) scale(1.050,1)" font-size="8.70" text-anchor="middle" >18</text>
<text x="0" y="0" transform="translate(88.84,376.60) scale(1.050,1)" font-size="8.70" text-anchor="middle" >20</text>
<text x="0" y="0" transform="translate(144.98,376.60) scale(1.050,1)" font-size="8.70" text-anchor="middle" >22</text>
<text x="0" y="0" transform="translate(201.12,376.60) scale(1.050,1)" font-size="8.70" text-anchor="middle" >24</text>
<text x="0" y="0" transform="translate(257.26,376.60) scale(1.050,1)" font-size="8.70" text-anchor="middle" >26</text>
<text x="0" y="0" transform="translate(313.40,376.60) scale(1.050,1)" font-size="8.70" text-anchor="middle" >28</text>
<text x="0" y="0" transform="translate(172.80,390.10) scale(1.180,1)" font-size="8.70" text-anchor="middle" >Frequency [GHz]</text>
<text x="0" y="0" transform="translate(7.30,293.60) scale(1.100,1) rotate(-90)" font-size="9.40" text-anchor="middle">Reflection [dB]</text>
<line x1="378.50" y1="241.16" x2="674.90" y2="241.16" stroke="#d9d9d9" stroke-width="1"/>
<line x1="378.50" y1="261.81" x2="674.90" y2="261.81" stroke="#d9d9d9" stroke-width="1"/>
<line x1="378.50" y1="282.47" x2="674.90" y2="282.47" stroke="#d9d9d9" stroke-width="1"/>
<line x1="378.50" y1="303.13" x2="674.90" y2="303.13" stroke="#d9d9d9" stroke-width="1"/>
<line x1="378.50" y1="323.79" x2="674.90" y2="323.79" stroke="#d9d9d9" stroke-width="1"/>
<line x1="378.50" y1="344.44" x2="674.90" y2="344.44" stroke="#d9d9d9" stroke-width="1"/>
<rect x="609.50" y="315.00" width="51.90" height="40.00" fill="#fff"/>
<line x1="376.60" y1="219.90" x2="376.60" y2="365.70" stroke="#454545" stroke-width="1.25"/>
<line x1="376.40" y1="365.10" x2="677.40" y2="365.10" stroke="#454545" stroke-width="1.3"/>
<line x1="377.00" y1="220.50" x2="676.70" y2="220.50" stroke="#454545" stroke-width="1.1"/>
<line x1="676.70" y1="219.90" x2="676.70" y2="365.70" stroke="#111" stroke-width="1.5"/>
<rect x="391.90" y="233.50" width="71.50" height="65.60" fill="#fff" stroke="#333" stroke-width="1.55"/>
<path d="M455.83,268.20 L455.78,268.85 L455.71,269.49 L455.63,270.14 L455.52,270.78 L455.40,271.42 L455.26,272.05 L455.11,272.68 L454.94,273.31 L454.75,273.94 L454.54,274.56 L454.31,275.17 L454.07,275.78 L453.82,276.38 L453.54,276.98 L453.25,277.57 L452.94,278.15 L452.62,278.73 L452.28,279.30 L451.93,279.86 L451.56,280.41 L451.18,280.96 L450.78,281.49 L450.36,282.02 L449.93,282.53 L449.49,283.04 L449.04,283.54 L448.57,284.02 L448.09,284.49 L447.59,284.96 L447.08,285.41 L446.56,285.84 L446.03,286.27 L445.49,286.69 L444.93,287.09 L444.37,287.48 L443.79,287.85 L443.20,288.21 L442.61,288.56 L442.00,288.90 L441.39,289.22 L440.77,289.52 L440.14,289.81 L439.50,290.09 L438.85,290.35 L438.20,290.60 L437.54,290.83 L436.87,291.05 L436.20,291.25 L435.52,291.43 L434.84,291.60 L434.15,291.76 L433.46,291.89 L432.77,292.02 L432.07,292.12 L431.37,292.21 L430.67,292.28 L429.97,292.34 L429.26,292.38 L428.56,292.41 L427.85,292.42 L427.14,292.41 L426.44,292.38 L425.73,292.34 L425.03,292.28 L424.33,292.21 L423.63,292.12 L422.93,292.02 L422.24,291.89 L421.55,291.76 L420.86,291.60 L420.18,291.43 L419.50,291.25 L418.83,291.05 L418.16,290.83 L417.50,290.60 L416.85,290.35 L416.20,290.09 L415.56,289.81 L414.93,289.52 L414.31,289.22 L413.70,288.90 L413.09,288.56 L412.50,288.21 L411.91,287.85 L411.33,287.48 L410.77,287.09 L410.21,286.69 L409.67,286.27 L409.14,285.84 L408.62,285.41 L408.11,284.96 L407.61,284.49 L407.13,284.02 L406.66,283.54 L406.21,283.04 L405.77,282.53 L405.34,282.02 L404.92,281.49 L404.52,280.96 L404.14,280.41 L403.77,279.86 L403.42,279.30 L403.08,278.73 L402.76,278.15 L402.45,277.57 L402.16,276.98 L401.88,276.38 L401.63,275.78 L401.39,275.17 L401.16,274.56 L400.95,273.94 L400.76,273.31 L400.59,272.68 L400.44,272.05 L400.30,271.42 L400.18,270.78 L400.07,270.14 L399.99,269.49 L399.92,268.85 L399.87,268.20 L406.89,268.20 L406.94,268.68 L407.00,269.16 L407.07,269.64 L407.16,270.12 L407.26,270.59 L407.37,271.06 L407.49,271.53 L407.63,272.00 L407.78,272.46 L407.94,272.92 L408.11,273.38 L408.30,273.83 L408.50,274.28 L408.71,274.72 L408.93,275.16 L409.16,275.59 L409.41,276.02 L409.66,276.44 L409.93,276.85 L410.21,277.26 L410.50,277.66 L410.80,278.06 L411.11,278.45 L411.44,278.83 L411.77,279.20 L412.11,279.57 L412.46,279.93 L412.82,280.28 L413.19,280.62 L413.57,280.95 L413.96,281.27 L414.36,281.59 L414.76,281.89 L415.18,282.19 L415.60,282.48 L416.03,282.75 L416.46,283.02 L416.91,283.28 L417.36,283.52 L417.81,283.76 L418.28,283.98 L418.74,284.20 L419.22,284.40 L419.70,284.60 L420.18,284.78 L420.67,284.95 L421.17,285.11 L421.66,285.26 L422.17,285.39 L422.67,285.52 L423.18,285.63 L423.69,285.73 L424.21,285.82 L424.72,285.90 L425.24,285.96 L425.76,286.02 L426.28,286.06 L426.80,286.09 L427.33,286.11 L427.85,286.11 L428.37,286.11 L428.90,286.09 L429.42,286.06 L429.94,286.02 L430.46,285.96 L430.98,285.90 L431.49,285.82 L432.01,285.73 L432.52,285.63 L433.03,285.52 L433.53,285.39 L434.04,285.26 L434.53,285.11 L435.03,284.95 L435.52,284.78 L436.00,284.60 L436.48,284.40 L436.96,284.20 L437.42,283.98 L437.89,283.76 L438.34,283.52 L438.79,283.28 L439.24,283.02 L439.67,282.75 L440.10,282.48 L440.52,282.19 L440.94,281.89 L441.34,281.59 L441.74,281.27 L442.13,280.95 L442.51,280.62 L442.88,280.28 L443.24,279.93 L443.59,279.57 L443.93,279.20 L444.26,278.83 L444.59,278.45 L444.90,278.06 L445.20,277.66 L445.49,277.26 L445.77,276.85 L446.04,276.44 L446.29,276.02 L446.54,275.59 L446.77,275.16 L446.99,274.72 L447.20,274.28 L447.40,273.83 L447.59,273.38 L447.76,272.92 L447.92,272.46 L448.07,272.00 L448.21,271.53 L448.33,271.06 L448.44,270.59 L448.54,270.12 L448.63,269.64 L448.70,269.16 L448.76,268.68 L448.81,268.20 Z" fill="url(#yg)" stroke="#85856a" stroke-width="0.6"/>
<path d="M399.87,265.20 L399.92,264.55 L399.99,263.91 L400.07,263.26 L400.18,262.62 L400.30,261.98 L400.44,261.35 L400.59,260.72 L400.76,260.09 L400.95,259.46 L401.16,258.84 L401.39,258.23 L401.63,257.62 L401.88,257.02 L402.16,256.42 L402.45,255.83 L402.76,255.25 L403.08,254.67 L403.42,254.10 L403.77,253.54 L404.14,252.99 L404.52,252.44 L404.92,251.91 L405.34,251.38 L405.77,250.87 L406.21,250.36 L406.66,249.86 L407.13,249.38 L407.61,248.91 L408.11,248.44 L408.62,247.99 L409.14,247.56 L409.67,247.13 L410.21,246.71 L410.77,246.31 L411.33,245.92 L411.91,245.55 L412.50,245.19 L413.09,244.84 L413.70,244.50 L414.31,244.18 L414.93,243.88 L415.56,243.59 L416.20,243.31 L416.85,243.05 L417.50,242.80 L418.16,242.57 L418.83,242.35 L419.50,242.15 L420.18,241.97 L420.86,241.80 L421.55,241.64 L422.24,241.51 L422.93,241.38 L423.63,241.28 L424.33,241.19 L425.03,241.12 L425.73,241.06 L426.44,241.02 L427.14,240.99 L427.85,240.98 L428.56,240.99 L429.26,241.02 L429.97,241.06 L430.67,241.12 L431.37,241.19 L432.07,241.28 L432.77,241.38 L433.46,241.51 L434.15,241.64 L434.84,241.80 L435.52,241.97 L436.20,242.15 L436.87,242.35 L437.54,242.57 L438.20,242.80 L438.85,243.05 L439.50,243.31 L440.14,243.59 L440.77,243.88 L441.39,244.18 L442.00,244.50 L442.61,244.84 L443.20,245.19 L443.79,245.55 L444.37,245.92 L444.93,246.31 L445.49,246.71 L446.03,247.13 L446.56,247.56 L447.08,247.99 L447.59,248.44 L448.09,248.91 L448.57,249.38 L449.04,249.86 L449.49,250.36 L449.93,250.87 L450.36,251.38 L450.78,251.91 L451.18,252.44 L451.56,252.99 L451.93,253.54 L452.28,254.10 L452.62,254.67 L452.94,255.25 L453.25,255.83 L453.54,256.42 L453.82,257.02 L454.07,257.62 L454.31,258.23 L454.54,258.84 L454.75,259.46 L454.94,260.09 L455.11,260.72 L455.26,261.35 L455.40,261.98 L455.52,262.62 L455.63,263.26 L455.71,263.91 L455.78,264.55 L455.83,265.20 L448.81,265.20 L448.76,264.72 L448.70,264.24 L448.63,263.76 L448.54,263.28 L448.44,262.81 L448.33,262.34 L448.21,261.87 L448.07,261.40 L447.92,260.94 L447.76,260.48 L447.59,260.02 L447.40,259.57 L447.20,259.12 L446.99,258.68 L446.77,258.24 L446.54,257.81 L446.29,257.38 L446.04,256.96 L445.77,256.55 L445.49,256.14 L445.20,255.74 L444.90,255.34 L444.59,254.95 L444.26,254.57 L443.93,254.20 L443.59,253.83 L443.24,253.47 L442.88,253.12 L442.51,252.78 L442.13,252.45 L441.74,252.13 L441.34,251.81 L440.94,251.51 L440.52,251.21 L440.10,250.92 L439.67,250.65 L439.24,250.38 L438.79,250.12 L438.34,249.88 L437.89,249.64 L437.42,249.42 L436.96,249.20 L436.48,249.00 L436.00,248.80 L435.52,248.62 L435.03,248.45 L434.53,248.29 L434.04,248.14 L433.53,248.01 L433.03,247.88 L432.52,247.77 L432.01,247.67 L431.49,247.58 L430.98,247.50 L430.46,247.44 L429.94,247.38 L429.42,247.34 L428.90,247.31 L428.37,247.29 L427.85,247.29 L427.33,247.29 L426.80,247.31 L426.28,247.34 L425.76,247.38 L425.24,247.44 L424.72,247.50 L424.21,247.58 L423.69,247.67 L423.18,247.77 L422.67,247.88 L422.17,248.01 L421.66,248.14 L421.17,248.29 L420.67,248.45 L420.18,248.62 L419.70,248.80 L419.22,249.00 L418.74,249.20 L418.28,249.42 L417.81,249.64 L417.36,249.88 L416.91,250.12 L416.46,250.38 L416.03,250.65 L415.60,250.92 L415.18,251.21 L414.76,251.51 L414.36,251.81 L413.96,252.13 L413.57,252.45 L413.19,252.78 L412.82,253.12 L412.46,253.47 L412.11,253.83 L411.77,254.20 L411.44,254.57 L411.11,254.95 L410.80,255.34 L410.50,255.74 L410.21,256.14 L409.93,256.55 L409.66,256.96 L409.41,257.38 L409.16,257.81 L408.93,258.24 L408.71,258.68 L408.50,259.12 L408.30,259.57 L408.11,260.02 L407.94,260.48 L407.78,260.94 L407.63,261.40 L407.49,261.87 L407.37,262.34 L407.26,262.81 L407.16,263.28 L407.07,263.76 L407.00,264.24 L406.94,264.72 L406.89,265.20 Z" fill="url(#yg)" stroke="#85856a" stroke-width="0.6"/>
<path d="M426.15,279.46 L425.81,279.42 L425.47,279.37 L425.14,279.32 L424.80,279.26 L424.47,279.19 L424.14,279.11 L423.81,279.02 L423.48,278.93 L423.16,278.83 L422.84,278.72 L422.52,278.61 L422.20,278.49 L421.89,278.36 L421.58,278.23 L421.28,278.09 L420.98,277.94 L420.68,277.78 L420.39,277.62 L420.10,277.46 L419.81,277.28 L419.53,277.10 L419.26,276.92 L418.99,276.73 L418.73,276.53 L418.47,276.33 L418.21,276.12 L417.97,275.90 L417.72,275.68 L417.49,275.46 L417.26,275.23 L417.03,274.99 L416.82,274.75 L416.61,274.51 L416.40,274.26 L416.20,274.01 L416.01,273.75 L415.83,273.49 L415.65,273.22 L415.48,272.95 L415.32,272.68 L415.16,272.40 L415.01,272.12 L414.87,271.84 L414.74,271.55 L414.62,271.26 L414.50,270.97 L414.39,270.67 L414.29,270.38 L414.19,270.08 L414.11,269.78 L414.03,269.48 L413.96,269.17 L413.90,268.87 L413.84,268.56 L413.80,268.25 L413.76,267.94 L413.73,267.63 L413.71,267.32 L413.70,267.01 L413.70,266.70 L413.70,266.39 L413.71,266.08 L413.73,265.77 L413.76,265.46 L413.80,265.15 L413.84,264.84 L413.90,264.53 L413.96,264.23 L414.03,263.92 L414.11,263.62 L414.19,263.32 L414.29,263.02 L414.39,262.73 L414.50,262.43 L414.62,262.14 L414.74,261.85 L414.87,261.56 L415.01,261.28 L415.16,261.00 L415.32,260.72 L415.48,260.45 L415.65,260.18 L415.83,259.91 L416.01,259.65 L416.20,259.39 L416.40,259.14 L416.61,258.89 L416.82,258.65 L417.03,258.41 L417.26,258.17 L417.49,257.94 L417.72,257.72 L417.97,257.50 L418.21,257.28 L418.47,257.07 L418.73,256.87 L418.99,256.67 L419.26,256.48 L419.53,256.30 L419.81,256.12 L420.10,255.94 L420.39,255.78 L420.68,255.62 L420.98,255.46 L421.28,255.31 L421.58,255.17 L421.89,255.04 L422.20,254.91 L422.52,254.79 L422.84,254.68 L423.16,254.57 L423.48,254.47 L423.81,254.38 L424.14,254.29 L424.47,254.21 L424.80,254.14 L425.14,254.08 L425.47,254.03 L425.81,253.98 L426.15,253.94 L426.15,260.19 L425.99,260.23 L425.83,260.27 L425.67,260.31 L425.51,260.35 L425.35,260.40 L425.20,260.45 L425.05,260.51 L424.89,260.57 L424.74,260.63 L424.59,260.69 L424.44,260.76 L424.30,260.83 L424.15,260.90 L424.01,260.98 L423.87,261.06 L423.73,261.14 L423.59,261.22 L423.46,261.31 L423.32,261.40 L423.19,261.49 L423.07,261.59 L422.94,261.68 L422.82,261.78 L422.70,261.89 L422.58,261.99 L422.46,262.10 L422.35,262.21 L422.24,262.32 L422.13,262.43 L422.03,262.55 L421.93,262.67 L421.83,262.79 L421.73,262.91 L421.64,263.03 L421.55,263.16 L421.46,263.29 L421.38,263.41 L421.30,263.55 L421.22,263.68 L421.15,263.81 L421.08,263.95 L421.01,264.08 L420.95,264.22 L420.89,264.36 L420.84,264.50 L420.78,264.64 L420.73,264.79 L420.69,264.93 L420.65,265.07 L420.61,265.22 L420.57,265.37 L420.54,265.51 L420.51,265.66 L420.49,265.81 L420.47,265.96 L420.45,266.10 L420.44,266.25 L420.43,266.40 L420.42,266.55 L420.42,266.70 L420.42,266.85 L420.43,267.00 L420.44,267.15 L420.45,267.30 L420.47,267.44 L420.49,267.59 L420.51,267.74 L420.54,267.89 L420.57,268.03 L420.61,268.18 L420.65,268.33 L420.69,268.47 L420.73,268.61 L420.78,268.76 L420.84,268.90 L420.89,269.04 L420.95,269.18 L421.01,269.32 L421.08,269.45 L421.15,269.59 L421.22,269.72 L421.30,269.85 L421.38,269.99 L421.46,270.11 L421.55,270.24 L421.64,270.37 L421.73,270.49 L421.83,270.61 L421.93,270.73 L422.03,270.85 L422.13,270.97 L422.24,271.08 L422.35,271.19 L422.46,271.30 L422.58,271.41 L422.70,271.51 L422.82,271.62 L422.94,271.72 L423.07,271.81 L423.19,271.91 L423.32,272.00 L423.46,272.09 L423.59,272.18 L423.73,272.26 L423.87,272.34 L424.01,272.42 L424.15,272.50 L424.30,272.57 L424.44,272.64 L424.59,272.71 L424.74,272.77 L424.89,272.83 L425.05,272.89 L425.20,272.95 L425.35,273.00 L425.51,273.05 L425.67,273.09 L425.83,273.13 L425.99,273.17 L426.15,273.21 Z" fill="url(#yg)" stroke="#85856a" stroke-width="0.6"/>
<path d="M429.55,253.94 L429.89,253.98 L430.23,254.03 L430.56,254.08 L430.90,254.14 L431.23,254.21 L431.56,254.29 L431.89,254.38 L432.22,254.47 L432.54,254.57 L432.86,254.68 L433.18,254.79 L433.50,254.91 L433.81,255.04 L434.12,255.17 L434.42,255.31 L434.72,255.46 L435.02,255.62 L435.31,255.78 L435.60,255.94 L435.89,256.12 L436.17,256.30 L436.44,256.48 L436.71,256.67 L436.97,256.87 L437.23,257.07 L437.49,257.28 L437.73,257.50 L437.98,257.72 L438.21,257.94 L438.44,258.17 L438.67,258.41 L438.88,258.65 L439.09,258.89 L439.30,259.14 L439.50,259.39 L439.69,259.65 L439.87,259.91 L440.05,260.18 L440.22,260.45 L440.38,260.72 L440.54,261.00 L440.69,261.28 L440.83,261.56 L440.96,261.85 L441.08,262.14 L441.20,262.43 L441.31,262.73 L441.41,263.02 L441.51,263.32 L441.59,263.62 L441.67,263.92 L441.74,264.23 L441.80,264.53 L441.86,264.84 L441.90,265.15 L441.94,265.46 L441.97,265.77 L441.99,266.08 L442.00,266.39 L442.00,266.70 L442.00,267.01 L441.99,267.32 L441.97,267.63 L441.94,267.94 L441.90,268.25 L441.86,268.56 L441.80,268.87 L441.74,269.17 L441.67,269.48 L441.59,269.78 L441.51,270.08 L441.41,270.38 L441.31,270.67 L441.20,270.97 L441.08,271.26 L440.96,271.55 L440.83,271.84 L440.69,272.12 L440.54,272.40 L440.38,272.68 L440.22,272.95 L440.05,273.22 L439.87,273.49 L439.69,273.75 L439.50,274.01 L439.30,274.26 L439.09,274.51 L438.88,274.75 L438.67,274.99 L438.44,275.23 L438.21,275.46 L437.98,275.68 L437.73,275.90 L437.49,276.12 L437.23,276.33 L436.97,276.53 L436.71,276.73 L436.44,276.92 L436.17,277.10 L435.89,277.28 L435.60,277.46 L435.31,277.62 L435.02,277.78 L434.72,277.94 L434.42,278.09 L434.12,278.23 L433.81,278.36 L433.50,278.49 L433.18,278.61 L432.86,278.72 L432.54,278.83 L432.22,278.93 L431.89,279.02 L431.56,279.11 L431.23,279.19 L430.90,279.26 L430.56,279.32 L430.23,279.37 L429.89,279.42 L429.55,279.46 L429.55,273.21 L429.71,273.17 L429.87,273.13 L430.03,273.09 L430.19,273.05 L430.35,273.00 L430.50,272.95 L430.65,272.89 L430.81,272.83 L430.96,272.77 L431.11,272.71 L431.26,272.64 L431.40,272.57 L431.55,272.50 L431.69,272.42 L431.83,272.34 L431.97,272.26 L432.11,272.18 L432.24,272.09 L432.38,272.00 L432.51,271.91 L432.63,271.81 L432.76,271.72 L432.88,271.62 L433.00,271.51 L433.12,271.41 L433.24,271.30 L433.35,271.19 L433.46,271.08 L433.57,270.97 L433.67,270.85 L433.77,270.73 L433.87,270.61 L433.97,270.49 L434.06,270.37 L434.15,270.24 L434.24,270.11 L434.32,269.99 L434.40,269.85 L434.48,269.72 L434.55,269.59 L434.62,269.45 L434.69,269.32 L434.75,269.18 L434.81,269.04 L434.86,268.90 L434.92,268.76 L434.97,268.61 L435.01,268.47 L435.05,268.33 L435.09,268.18 L435.13,268.03 L435.16,267.89 L435.19,267.74 L435.21,267.59 L435.23,267.44 L435.25,267.30 L435.26,267.15 L435.27,267.00 L435.28,266.85 L435.28,266.70 L435.28,266.55 L435.27,266.40 L435.26,266.25 L435.25,266.10 L435.23,265.96 L435.21,265.81 L435.19,265.66 L435.16,265.51 L435.13,265.37 L435.09,265.22 L435.05,265.07 L435.01,264.93 L434.97,264.79 L434.92,264.64 L434.86,264.50 L434.81,264.36 L434.75,264.22 L434.69,264.08 L434.62,263.95 L434.55,263.81 L434.48,263.68 L434.40,263.55 L434.32,263.41 L434.24,263.29 L434.15,263.16 L434.06,263.03 L433.97,262.91 L433.87,262.79 L433.77,262.67 L433.67,262.55 L433.57,262.43 L433.46,262.32 L433.35,262.21 L433.24,262.10 L433.12,261.99 L433.00,261.89 L432.88,261.78 L432.76,261.68 L432.63,261.59 L432.51,261.49 L432.38,261.40 L432.24,261.31 L432.11,261.22 L431.97,261.14 L431.83,261.06 L431.69,260.98 L431.55,260.90 L431.40,260.83 L431.26,260.76 L431.11,260.69 L430.96,260.63 L430.81,260.57 L430.65,260.51 L430.50,260.45 L430.35,260.40 L430.19,260.35 L430.03,260.31 L429.87,260.27 L429.71,260.23 L429.55,260.19 Z" fill="url(#yg)" stroke="#85856a" stroke-width="0.6"/>
<path d="M377.00,310.80 C380.33,311.43 383.62,312.03 387.00,312.70 C390.48,313.39 394.17,314.18 397.60,314.90 C400.83,315.58 403.93,316.20 407.00,316.90 C409.96,317.57 412.81,318.25 415.70,319.00 C418.58,319.75 421.56,320.55 424.30,321.40 C426.84,322.19 429.37,323.02 431.60,323.90 C433.55,324.67 435.30,325.47 437.00,326.30 C438.58,327.07 440.01,327.73 441.50,328.70 C443.14,329.77 445.04,330.96 446.40,332.50 C447.79,334.08 448.74,336.14 449.70,338.10 C450.68,340.10 451.56,342.42 452.20,344.40 C452.74,346.09 453.06,347.55 453.40,349.20 C453.76,350.94 453.98,354.60 454.30,354.60 C454.62,354.60 454.94,350.94 455.30,349.20 C455.64,347.55 455.89,346.09 456.40,344.40 C457.00,342.42 457.77,340.18 458.80,338.10 C459.90,335.87 461.19,333.48 462.90,331.50 C464.69,329.43 467.06,327.68 469.40,326.00 C471.82,324.27 474.25,322.66 477.20,321.30 C480.65,319.71 485.10,318.43 489.00,317.40 C492.70,316.42 496.35,315.85 500.00,315.20 C503.58,314.56 507.26,314.07 510.70,313.50 C513.91,312.97 516.64,312.45 520.00,311.90 C523.97,311.25 528.59,310.59 533.00,309.90 C537.58,309.19 542.41,308.29 547.00,307.70 C551.41,307.13 556.16,306.80 560.00,306.40 C563.05,306.08 564.75,305.86 568.20,305.50 C574.12,304.88 584.26,303.83 592.30,303.10 C600.33,302.37 608.36,301.68 616.40,301.10 C624.43,300.52 632.46,300.03 640.50,299.60 C648.53,299.17 657.94,298.76 664.60,298.50 C669.32,298.31 672.67,298.23 676.70,298.10" fill="none" stroke="#cd5a14" stroke-width="2.40" stroke-linejoin="round"/>
<path d="M377.00,220.90 C476.90,220.90 576.80,220.90 676.70,220.90" fill="none" stroke="#2249a2" stroke-width="2.30" stroke-linejoin="round"/>
<line x1="616.00" y1="244.60" x2="634.90" y2="244.60" stroke="#2249a2" stroke-width="2"/>
<line x1="616.00" y1="267.00" x2="634.90" y2="267.00" stroke="#cd5a14" stroke-width="2"/>
<text x="0" y="0" transform="translate(636.10,247.80) scale(1.180,1)" font-size="8.90" text-anchor="start" >Rxx</text>
<text x="0" y="0" transform="translate(636.10,270.20) scale(1.180,1)" font-size="8.90" text-anchor="start" >Ryx</text>
<text x="0" y="0" transform="translate(632.95,340.20) scale(1.100,1)" font-size="15.66" text-anchor="middle" >(d)</text>
<text x="0" y="0" transform="translate(367.80,223.67) scale(1.160,1)" font-size="8.25" text-anchor="end" >0</text>
<text x="0" y="0" transform="translate(367.80,244.33) scale(1.160,1)" font-size="8.25" text-anchor="end" >-20</text>
<text x="0" y="0" transform="translate(367.80,264.98) scale(1.160,1)" font-size="8.25" text-anchor="end" >-40</text>
<text x="0" y="0" transform="translate(367.80,285.64) scale(1.160,1)" font-size="8.25" text-anchor="end" >-60</text>
<text x="0" y="0" transform="translate(367.80,306.30) scale(1.160,1)" font-size="8.25" text-anchor="end" >-80</text>
<text x="0" y="0" transform="translate(367.80,326.96) scale(1.160,1)" font-size="8.25" text-anchor="end" >-100</text>
<text x="0" y="0" transform="translate(367.80,347.61) scale(1.160,1)" font-size="8.25" text-anchor="end" >-120</text>
<text x="0" y="0" transform="translate(367.80,368.27) scale(1.160,1)" font-size="8.25" text-anchor="end" >-140</text>
<text x="0" y="0" transform="translate(377.00,378.90) scale(1.100,1)" font-size="8.30" text-anchor="middle" >18</text>
<text x="0" y="0" transform="translate(436.94,378.90) scale(1.100,1)" font-size="8.30" text-anchor="middle" >20</text>
<text x="0" y="0" transform="translate(496.88,378.90) scale(1.100,1)" font-size="8.30" text-anchor="middle" >22</text>
<text x="0" y="0" transform="translate(556.82,378.90) scale(1.100,1)" font-size="8.30" text-anchor="middle" >24</text>
<text x="0" y="0" transform="translate(616.76,378.90) scale(1.100,1)" font-size="8.30" text-anchor="middle" >26</text>
<text x="0" y="0" transform="translate(676.70,378.90) scale(1.100,1)" font-size="8.30" text-anchor="middle" >28</text>
<text x="0" y="0" transform="translate(527.90,393.30) scale(1.100,1)" font-size="9.60" text-anchor="middle" >Frequency [GHz]</text>
<text x="0" y="0" transform="translate(343.10,298.70) scale(1.100,1) rotate(-90)" font-size="9.80" text-anchor="middle">Reflection [dB]</text>
<circle cx="193.3" cy="315.3" r="0.7" fill="#2249a2"/>
</svg>
</body></html>
